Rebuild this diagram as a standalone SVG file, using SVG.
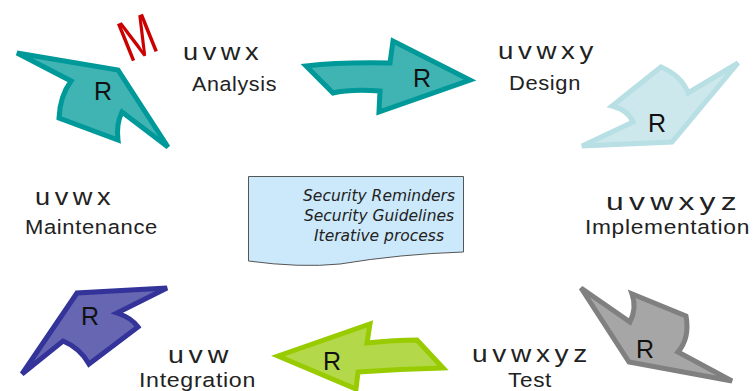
<svg xmlns="http://www.w3.org/2000/svg" width="755" height="391" viewBox="0 0 755 391">
<style>
.lbl{font-family:"Liberation Sans",Arial,sans-serif;font-size:20.5px;fill:#222;letter-spacing:0.6px}
.code{font-family:"Liberation Sans",Arial,sans-serif;font-size:24px;fill:#222;letter-spacing:4px}
.r{font-family:"Liberation Sans",Arial,sans-serif;font-size:25px;fill:#111;text-anchor:middle}
.arr{stroke-width:5;stroke-linejoin:miter}
.note{font-family:"DejaVu Sans",Verdana,sans-serif;font-size:15.5px;font-style:italic;fill:#222;text-anchor:middle}
</style>
<rect width="755" height="391" fill="#fff"/>
<g id="connectors"/>
<g id="arrow-analysis">
<path class="arr" fill="#40b3b3" stroke="#009999" d="M17,53 L118,70 L168,147 L122,112 Q116,124 118,140 L59,118 Q60,96 71,81 Z"/>
<text class="r" x="103" y="100">R</text>
</g>
<g id="mark-m"><text x="0" y="0" transform="translate(145,56) rotate(-22) scale(0.72,1)" font-family="Liberation Sans,Arial,sans-serif" font-size="58" fill="#cc0000" text-anchor="middle">M</text></g>
<g id="arrow-design">
<path class="arr" fill="#40b3b3" stroke="#009999" d="M306,66 Q340,62 390,63 L393,41 L470,80 L379,112 L380,91 Q350,89 333,93 Z"/>
<text class="r" x="422" y="87">R</text>
</g>
<g id="arrow-implementation">
<path class="arr" fill="#cce8ec" stroke="#b7dfe4" d="M738,63 L672,142 L582,146 L633,122 Q628,110 612,106 L661,67 Q682,76 688,93 Z"/>
<text class="r" x="657" y="132">R</text>
</g>
<g id="arrow-test">
<path class="arr" fill="#a6a6a6" stroke="#808080" d="M581,288 L630,322 Q637,308 632,294 L686,316 Q690,338 678,352 L732,381 L629,362 Z"/>
<text class="r" x="645" y="358">R</text>
</g>
<g id="arrow-integration">
<path class="arr" fill="#b3d94a" stroke="#99cc00" d="M278,356 L370,324 L367,343 Q395,340 417,340 L443,368 Q400,369 358,372 L356,389 Z"/>
<text class="r" x="332" y="370">R</text>
</g>
<g id="arrow-maintenance">
<path class="arr" fill="#6666b3" stroke="#333399" d="M22,374 L77,293 L167,288 L117,313 Q132,318 138,327 L89,364 Q80,348 63,341 Z"/>
<text class="r" x="90" y="325">R</text>
</g>
<g id="note">
<path fill="#cce9fb" stroke="#555" stroke-width="1" d="M248.5,176.5 L463.5,176.5 L463.5,252 Q400,254 340,264 Q300,268 248.5,261 Z"/>
<text class="note" x="379" y="201">Security Reminders</text>
<text class="note" x="379" y="221">Security Guidelines</text>
<text class="note" x="379" y="241">Iterative process</text>
</g>
<g id="label-analysis">
<text class="code" x="183" y="60" textLength="80" lengthAdjust="spacingAndGlyphs">uvwx</text>
<text class="lbl" x="192" y="91" textLength="85" lengthAdjust="spacingAndGlyphs">Analysis</text>
</g>
<g id="label-design">
<text class="code" x="498" y="59" textLength="100" lengthAdjust="spacingAndGlyphs">uvwxy</text>
<text class="lbl" x="509" y="90" textLength="72" lengthAdjust="spacingAndGlyphs">Design</text>
</g>
<g id="label-implementation">
<text class="code" x="606" y="210" textLength="136" lengthAdjust="spacingAndGlyphs">uvwxyz</text>
<text class="lbl" x="585" y="234" textLength="165" lengthAdjust="spacingAndGlyphs">Implementation</text>
</g>
<g id="label-test">
<text class="code" x="472" y="362" textLength="120" lengthAdjust="spacingAndGlyphs">uvwxyz</text>
<text class="lbl" x="508" y="387" textLength="44" lengthAdjust="spacingAndGlyphs">Test</text>
</g>
<g id="label-integration">
<text class="code" x="168" y="363" textLength="65" lengthAdjust="spacingAndGlyphs">uvw</text>
<text class="lbl" x="139" y="387" textLength="117" lengthAdjust="spacingAndGlyphs">Integration</text>
</g>
<g id="label-maintenance">
<text class="code" x="35" y="205" textLength="80" lengthAdjust="spacingAndGlyphs">uvwx</text>
<text class="lbl" x="25" y="234" textLength="133" lengthAdjust="spacingAndGlyphs">Maintenance</text>
</g>
</svg>
